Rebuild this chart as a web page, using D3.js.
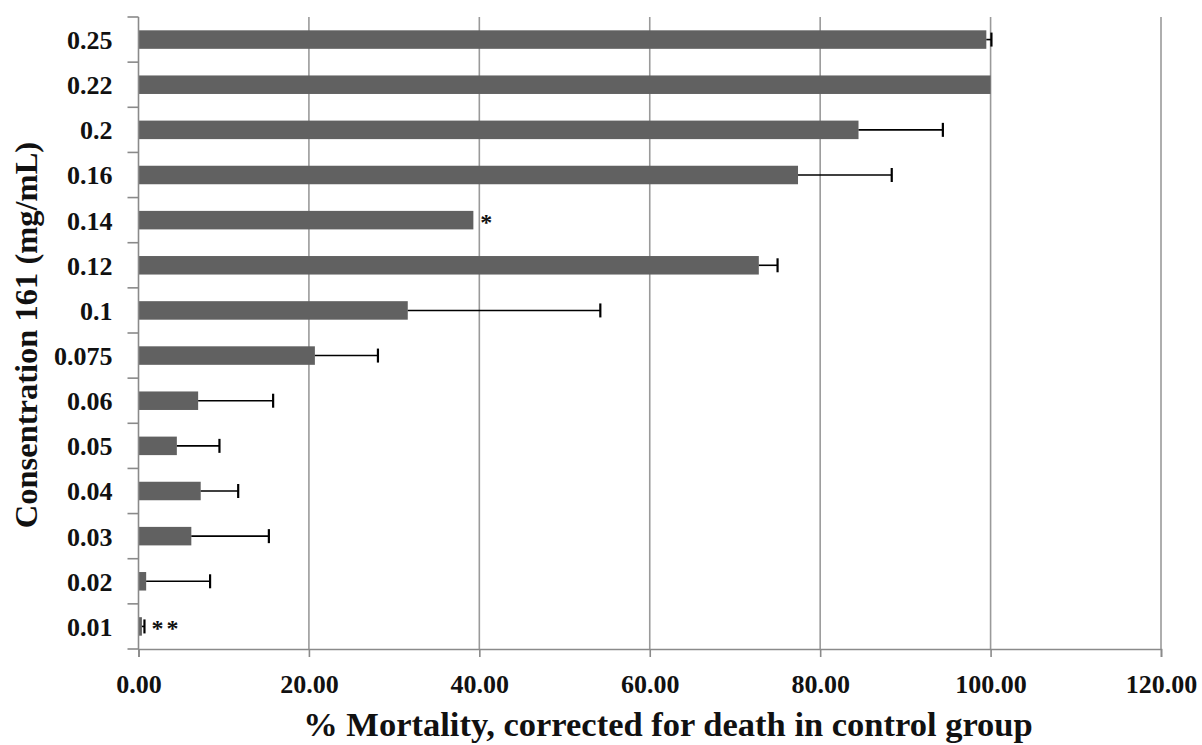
<!DOCTYPE html>
<html>
<head>
<meta charset="utf-8">
<script src="https://cdn.jsdelivr.net/npm/d3@7"></script>
<style>
  html, body { margin: 0; padding: 0; background: #fff; }
  svg { display: block; }
  text { font-family: "Liberation Serif", "DejaVu Serif", serif; font-weight: bold; fill: #111; }
</style>
</head>
<body>
<svg id="chart" width="1202" height="745"></svg>
<script>
// Categories (top to bottom)
const categories = ["0.25","0.22","0.2","0.16","0.14","0.12","0.1","0.075","0.06","0.05","0.04","0.03","0.02","0.01"];
// Mean % mortality
const values = [99.5, 100, 84.5, 77.4, 39.3, 72.8, 31.6, 20.7, 7.0, 4.5, 7.3, 6.2, 0.9, 0.4];
// Positive error (SD) added to the mean
const errors = [0.6, 0, 9.9, 11.0, 0, 2.2, 22.6, 7.4, 8.8, 5.0, 4.4, 9.1, 7.5, 0.3];
// Significance annotations
const marks = ["", "", "", "", "*", "", "", "", "", "", "", "", "", "**"];
const xTicks = [0, 20, 40, 60, 80, 100, 120];
const xTitle = "% Mortality, corrected for death in control group";
const yTitle = "Consentration 161 (mg/mL)";

const svg = d3.select("#chart");
const mLeft = 138.5, mRight = 1161, mTop = 17, mBottom = 649;

const x = d3.scaleLinear().domain([0, 120]).range([mLeft, mRight]);
const y = d3.scaleBand().domain(categories).range([mTop, mBottom]).paddingInner(0.59).paddingOuter(0.295);

// gridlines
svg.append("g").selectAll("line").data(xTicks.filter(d => d > 0)).join("line")
  .attr("x1", d => x(d)).attr("x2", d => x(d))
  .attr("y1", mTop).attr("y2", mBottom)
  .attr("stroke", "#9a9a9a").attr("stroke-width", 1.6);

// bars
svg.append("g").selectAll("rect").data(categories).join("rect")
  .attr("x", x(0))
  .attr("y", (d) => y(d))
  .attr("width", (d, i) => x(values[i]) - x(0))
  .attr("height", y.bandwidth())
  .attr("fill", "#616161");

// error bars
const eg = svg.append("g").attr("stroke", "#000").attr("stroke-width", 1.6);
categories.forEach((c, i) => {
  if (errors[i] <= 0) return;
  const cy = y(c) + y.bandwidth() / 2;
  eg.append("line").attr("x1", x(values[i])).attr("x2", x(values[i] + errors[i])).attr("y1", cy).attr("y2", cy);
  eg.append("line").attr("x1", x(values[i] + errors[i])).attr("x2", x(values[i] + errors[i]))
    .attr("y1", cy - 7).attr("y2", cy + 7).attr("stroke-width", 2.2);
});

// significance marks
svg.append("g").selectAll("text").data(categories).join("text")
  .attr("x", (d, i) => x(values[i] + errors[i]) + 7)
  .attr("y", d => y(d) + y.bandwidth() / 2 + 10)
  .attr("font-size", 24)
  .attr("letter-spacing", 3)
  .text((d, i) => marks[i]);

// y axis
const yAxis = d3.axisLeft(y).tickSize(0).tickPadding(26);
const yg = svg.append("g").attr("transform", `translate(${mLeft},0)`).call(yAxis);
yg.select(".domain").remove();
yg.selectAll("text").attr("font-size", 26).attr("font-family", "Liberation Serif").attr("fill", "#111").attr("dy", "0.36em");
// y axis line and band-boundary ticks
svg.append("line").attr("x1", mLeft).attr("x2", mLeft).attr("y1", mTop).attr("y2", mBottom).attr("stroke", "#8a8a8a").attr("stroke-width", 1.6);
const bounds = categories.map(c => y(c) - y.step() * y.paddingInner() / 2).concat([mBottom]);
bounds[0] = mTop;
svg.append("g").selectAll("line").data(bounds).join("line")
  .attr("x1", mLeft - 11).attr("x2", mLeft).attr("y1", d => d).attr("y2", d => d)
  .attr("stroke", "#8a8a8a").attr("stroke-width", 1.6);

// x axis
const xAxis = d3.axisBottom(x).tickValues(xTicks).tickFormat(d3.format(".2f")).tickSize(8).tickPadding(18);
const xg = svg.append("g").attr("transform", `translate(0,${mBottom})`).call(xAxis);
xg.select(".domain").attr("stroke", "#8a8a8a").attr("stroke-width", 1.6);
xg.selectAll(".tick line").attr("stroke", "#8a8a8a").attr("stroke-width", 1.6);
xg.selectAll("text").attr("font-size", 26).attr("font-family", "Liberation Serif").attr("fill", "#111");

// titles
svg.append("text").attr("x", 668).attr("y", 736).attr("text-anchor", "middle").attr("font-size", 34.5).text(xTitle);
svg.append("text").attr("transform", "translate(37,335) rotate(-90)").attr("text-anchor", "middle").attr("font-size", 32.5).text(yTitle);
</script>
</body>
</html>
